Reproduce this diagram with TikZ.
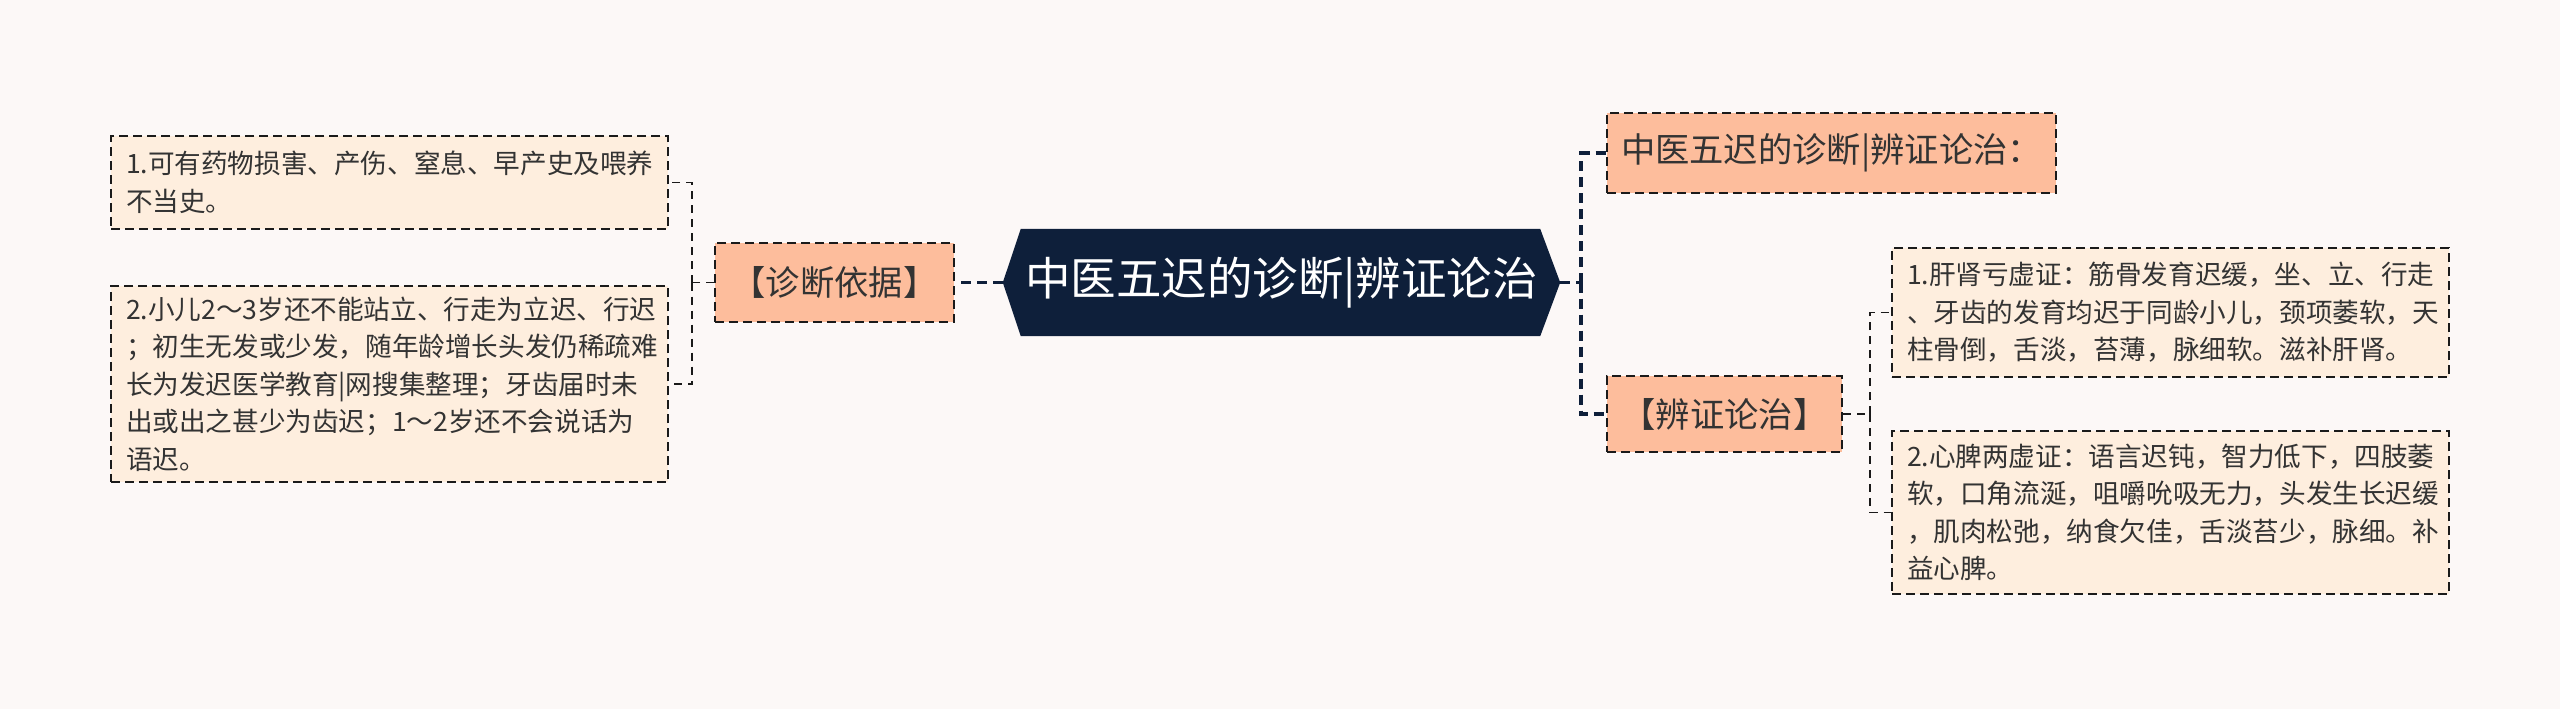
\documentclass[tikz,border=0pt]{standalone}
\usepackage{fontspec}
\setmainfont{Noto Sans CJK SC}
\definecolor{bgc}{HTML}{FCF8F7}
\definecolor{leafc}{HTML}{FEEEDE}
\definecolor{midc}{HTML}{FDBD9C}
\definecolor{navy}{HTML}{0E1F3A}
\definecolor{txt}{HTML}{333333}
\definecolor{lnc}{HTML}{1A1A1A}
\begin{document}
\begin{tikzpicture}[x=1pt,y=-1pt,
  leaf/.style={draw=lnc, line width=2pt, dash pattern=on 9pt off 5pt, fill=leafc, text=txt,
    align=left, inner xsep=15pt, inner ysep=0pt, text width=527pt,
    font=\fontsize{26.6}{37.5}\selectfont},
  mid/.style={draw=lnc, line width=2pt, dash pattern=on 9pt off 5pt, fill=midc, text=txt,
    inner sep=0pt, font=\fontsize{34.3}{34.3}\selectfont},
  thin/.style={draw=lnc, line width=1.8pt, dash pattern=on 8pt off 6pt},
  main/.style={draw=navy, line width=3.5pt, dash pattern=on 10pt off 6pt}]
\fill[bgc] (0,0) rectangle (2560,709);
\useasboundingbox (0,0) rectangle (2560,709);

% center
\node[minimum width=557pt, minimum height=107pt, inner sep=0pt] (c) at (1281.5,282.5) {};
\fill[navy] (c.west) -- ([xshift=18pt]c.north west) -- ([xshift=-20pt]c.north east) -- (c.east)
  -- ([xshift=-20pt]c.south east) -- ([xshift=18pt]c.south west) -- cycle;
\node[text=white, font=\fontsize{45.5}{45.5}\selectfont] at (c.center) {中医五迟的诊断|辨证论治};

% left
\node[mid, minimum width=239pt, minimum height=79pt] (mL) at (834.5,282.5) {【诊断依据】};
\node[leaf, minimum height=93pt] (L1) at (389.5,182.5) {1.可有药物损害、产伤、窒息、早产史及喂养\\不当史。};
\node[leaf, minimum height=196pt] (L2) at (389.5,384) {2.小儿2～3岁还不能站立、行走为立迟、行迟\\；初生无发或少发，随年龄增长头发仍稀疏难\\长为发迟医学教育|网搜集整理；牙齿届时未\\出或出之甚少为齿迟；1～2岁还不会说话为\\语迟。};

% right
\node[mid, minimum width=449pt, minimum height=80pt] (R1) at (1831.5,153) {中医五迟的诊断|辨证论治：};
\node[mid, minimum width=235pt, minimum height=76pt] (R2) at (1724.5,414) {【辨证论治】};
\node[leaf, minimum height=129pt] (S1) at (2170.5,312.5) {1.肝肾亏虚证：筋骨发育迟缓，坐、立、行走\\、牙齿的发育均迟于同龄小儿，颈项萎软，天\\柱骨倒，舌淡，苔薄，脉细软。滋补肝肾。};
\node[leaf, minimum height=163pt] (S2) at (2170.5,512.5) {2.心脾两虚证：语言迟钝，智力低下，四肢萎\\软，口角流涎，咀嚼吮吸无力，头发生长迟缓\\，肌肉松弛，纳食欠佳，舌淡苔少，脉细。补\\益心脾。};

% connectors
\draw[main] (c.west) -- (mL.east);
\coordinate (jL) at (692,282.5);
\draw[thin] (mL.west) -- (jL);
\draw[thin] (jL) |- (L1.east);
\draw[thin] (jL) |- (L2.east);

\coordinate (jR) at (1581,282.5);
\draw[main] (c.east) -- (jR);
\draw[main] (jR) |- (R1.west);
\draw[main] (jR) |- (R2.west);

\coordinate (jS) at (1870,414);
\draw[thin] (R2.east) -- (jS);
\draw[thin] (jS) |- (S1.west);
\draw[thin] (jS) |- (S2.west);
\end{tikzpicture}
\end{document}
